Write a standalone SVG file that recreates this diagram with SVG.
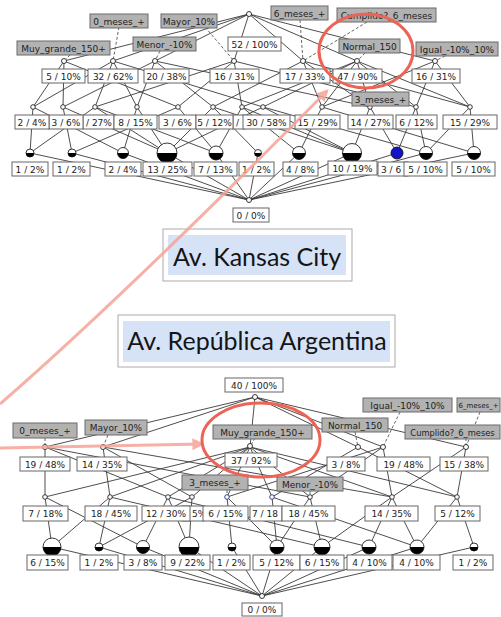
<svg xmlns="http://www.w3.org/2000/svg" width="501" height="617" viewBox="0 0 501 617">
<style>
.e{fill:none;stroke:#3a3a3a;stroke-width:0.9}
.d{fill:none;stroke:#555;stroke-width:0.9;stroke-dasharray:3 2}
.lb{fill:#fff;stroke:#666;stroke-width:1}
.at{fill:#b2b2b2;stroke:#6a6a6a;stroke-width:1}
.t{font-family:"DejaVu Sans",sans-serif;font-size:9px;fill:#222;text-anchor:middle}
.ts{font-family:"DejaVu Sans",sans-serif;font-size:9px;fill:#222;text-anchor:start}
.n{fill:#fff;stroke:#222;stroke-width:0.9}
.h{fill:#000}
.ttl{font-family:Lato,"Open Sans",sans-serif;font-size:25px;fill:#151515;text-anchor:middle}
.red{fill:none;stroke:#ec6455;stroke-width:3}
.pink{fill:none;stroke:#f5a397;stroke-width:3;opacity:0.85}
</style>
<defs>
<marker id="ah" viewBox="0 0 10 10" refX="8" refY="5" markerWidth="4" markerHeight="4" orient="auto"><path d="M0,0 L10,5 L0,10 Z" fill="#f5a397"/></marker>
</defs>
<rect width="501" height="617" fill="#fff"/>

<g id="connectors">
<!-- top lattice -->
<path class="e" d="M249 14L64 61M249 14L113 61M249 14L155 61M249 14L234 61M249 14L303 61M249 14L357 61M249 14L435 61"/>
<path class="e" d="M64 61L33 107M64 61L63 107M64 61L178 107
M113 61L33 107M113 61L95 107M113 61L137 107M113 61L263 107
M155 61L63 107M155 61L137 107M155 61L213 107M155 61L370 107
M234 61L95 107M234 61L178 107M234 61L242 107M234 61L416 107
M303 61L213 107M303 61L322 107M303 61L370 107M303 61L470 107
M357 61L242 107M357 61L263 107M357 61L322 107M357 61L370 107M357 61L416 107M357 61L470 107
M435 61L322 107M435 61L416 107M435 61L470 107"/>
<path class="e" d="M33 107L30 153M33 107L123 153
M63 107L72 153M63 107L167 153
M95 107L30 153M95 107L167 153M95 107L216 153
M137 107L123 153M137 107L167 153
M178 107L72 153M178 107L216 153
M213 107L167 153M213 107L258 153M213 107L352 153
M242 107L216 153M242 107L299 153M242 107L352 153
M263 107L167 153M263 107L352 153M263 107L426 153
M322 107L299 153M322 107L474 153
M370 107L352 153M370 107L397 153
M416 107L397 153M416 107L426 153
M470 107L426 153M470 107L474 153"/>
<path class="e" d="M30 153L249 200M72 153L249 200M123 153L249 200M167 153L249 200M216 153L249 200M258 153L249 200M299 153L249 200M352 153L249 200M397 153L249 200M426 153L249 200M474 153L249 200"/>
<path class="d" d="M70 55L64 61M119 27L113 61M160 51L155 61M205 27L234 61M300 20L303 61M367 22L303 61M365 53L357 61M445 56L435 61"/>
<!-- bottom lattice -->
<path class="e" d="M255 397L45 447M255 397L103 447M255 397L250 447M255 397L358 447M255 397L383 447M255 397L466 447"/>
<path class="e" d="M45 447L45 497M45 447L168 497M45 447L310 497
M103 447L110 497M103 447L192 497M103 447L392 497
M250 447L45 497M250 447L110 497M250 447L168 497M250 447L192 497M250 447L227 497M250 447L272 497M250 447L310 497M250 447L392 497M250 447L457 497
M358 447L272 497M358 447L457 497
M383 447L227 497M383 447L310 497M383 447L392 497
M466 447L392 497M466 447L457 497"/>
<path class="e" d="M45 497L52 547M45 497L143 547
M110 497L52 547M110 497L99 547M110 497L322 547
M168 497L143 547M168 497L189 547M168 497L369 547
M192 497L99 547M192 497L189 547
M227 497L232 547M227 497L277 547
M272 497L277 547M272 497L417 547
M310 497L277 547M310 497L322 547
M392 497L322 547M392 497L369 547M392 497L417 547
M457 497L417 547M457 497L474 547"/>
<path class="e" d="M52 547L262 596M99 547L262 596M143 547L262 596M189 547L262 596M232 547L262 596M277 547L262 596M322 547L262 596M369 547L262 596M417 547L262 596M474 547L262 596"/>
<path class="d" d="M45 438L45 447M108 435L103 447M255 438L250 447M355 432L358 447M400 412L383 447M480 412L466 447M466 438L466 447M227 490L227 497M310 491L310 497"/>
</g>

<!-- ===== top lattice nodes ===== -->
<g id="k-top"><circle class="n" cx="249" cy="14" r="2.5"/><rect class="lb" x="228" y="37" width="53" height="14"/><text class="t" x="254.5" y="47.5">52 / 100%</text></g>
<g id="k-l1">
<circle class="n" cx="64" cy="61" r="2.5"/><circle class="n" cx="113" cy="61" r="2.5"/><circle class="n" cx="155" cy="61" r="2.5"/><circle class="n" cx="234" cy="61" r="2.5"/><circle class="n" cx="303" cy="61" r="2.5"/><circle class="n" cx="357" cy="61" r="2.5"/><circle class="n" cx="435" cy="61" r="2.5"/>
</g>
<g id="k-l1-labels">
<rect class="lb" x="42" y="69" width="43" height="14"/><text class="t" x="63.5" y="79.5">5 / 10%</text>
<rect class="lb" x="88" y="69" width="50" height="14"/><text class="t" x="113" y="79.5">32 / 62%</text>
<rect class="lb" x="144" y="69" width="45" height="14"/><text class="t" x="166.5" y="79.5">20 / 38%</text>
<rect class="lb" x="210" y="69" width="49" height="14"/><text class="t" x="234.5" y="79.5">16 / 31%</text>
<rect class="lb" x="280" y="69" width="50" height="14"/><text class="t" x="305" y="79.5">17 / 33%</text>
<rect class="lb" x="333" y="69" width="49" height="14"/><text class="t" x="357.5" y="79.5">47 / 90%</text>
<rect class="lb" x="412" y="69" width="48" height="14"/><text class="t" x="436" y="79.5">16 / 31%</text>
</g>
<g id="k-l2">
<circle class="n" cx="33" cy="107" r="2.3"/><circle class="n" cx="63" cy="107" r="2.3"/><circle class="n" cx="95" cy="107" r="2.3"/><circle class="n" cx="137" cy="107" r="2.3"/><circle class="n" cx="178" cy="107" r="2.3"/><circle class="n" cx="213" cy="107" r="2.3"/><circle class="n" cx="242" cy="107" r="2.3"/><circle class="n" cx="263" cy="107" r="2.3"/><circle class="n" cx="322" cy="107" r="2.3"/><circle class="n" cx="370" cy="107" r="2.3"/><circle class="n" cx="416" cy="107" r="2.3"/><circle class="n" cx="470" cy="107" r="2.3"/>
</g>
<g id="k-l2-labels">
<rect class="lb" x="83" y="115" width="31" height="14"/><text class="ts" x="86" y="125.5">/ 27%</text>
<rect class="lb" x="49" y="115" width="34" height="14"/><text class="t" x="66" y="125.5">3 / 6%</text>
<rect class="lb" x="15" y="115" width="34" height="14"/><text class="t" x="32" y="125.5">2 / 4%</text>
<rect class="lb" x="114" y="115" width="43" height="14"/><text class="t" x="135.5" y="125.5">8 / 15%</text>
<rect class="lb" x="159" y="115" width="37" height="14"/><text class="t" x="177.5" y="125.5">3 / 6%</text>
<rect class="lb" x="233" y="115" width="12" height="14"/><text class="ts" x="236" y="125.5">/</text>
<rect class="lb" x="196" y="115" width="37" height="14"/><text class="t" x="214.5" y="125.5">5 / 12%</text>
<rect class="lb" x="243" y="115" width="47" height="14"/><text class="t" x="266.5" y="125.5">30 / 58%</text>
<rect class="lb" x="295" y="115" width="45" height="14"/><text class="t" x="317.5" y="125.5">15 / 29%</text>
<rect class="lb" x="348" y="115" width="45" height="14"/><text class="t" x="370.5" y="125.5">14 / 27%</text>
<rect class="lb" x="396" y="115" width="41" height="14"/><text class="t" x="416.5" y="125.5">6 / 12%</text>
<rect class="lb" x="443" y="115" width="54" height="14"/><text class="t" x="470" y="125.5">15 / 29%</text>
</g>
<g id="k-l3">
<circle class="n" cx="30" cy="153" r="4"/><path class="h" d="M26 153A4 4 0 0 0 34 153Z"/>
<circle class="n" cx="72" cy="153" r="4"/><path class="h" d="M68 153A4 4 0 0 0 76 153Z"/>
<circle class="n" cx="123" cy="153" r="5.5"/><path class="h" d="M117.5 153A5.5 5.5 0 0 0 128.5 153Z"/>
<circle class="n" cx="167" cy="153" r="10"/><path class="h" d="M157 153A10 10 0 0 0 177 153Z"/>
<circle class="n" cx="216" cy="153" r="7"/><path class="h" d="M209 153A7 7 0 0 0 223 153Z"/>
<circle class="n" cx="258" cy="153" r="3.5"/><path class="h" d="M254.5 153A3.5 3.5 0 0 0 261.5 153Z"/>
<circle class="n" cx="299" cy="153" r="6.5"/><path class="h" d="M292.5 153A6.5 6.5 0 0 0 305.5 153Z"/>
<circle class="n" cx="352" cy="153" r="9.5"/><path class="h" d="M342.5 153A9.5 9.5 0 0 0 361.5 153Z"/>
<circle cx="397" cy="153" r="6" fill="#1313c8" stroke="#111" stroke-width="0.9"/>
<circle class="n" cx="426" cy="153" r="6.5"/><path class="h" d="M419.5 153A6.5 6.5 0 0 0 432.5 153Z"/>
<circle class="n" cx="474" cy="153" r="6.5"/><path class="h" d="M467.5 153A6.5 6.5 0 0 0 480.5 153Z"/>
</g>
<g id="k-l3-labels">
<rect class="lb" x="12" y="162" width="36" height="14"/><text class="t" x="30" y="172.5">1 / 2%</text>
<rect class="lb" x="53" y="162" width="37" height="14"/><text class="t" x="71.5" y="172.5">1 / 2%</text>
<rect class="lb" x="105" y="162" width="36" height="14"/><text class="t" x="123" y="172.5">2 / 4%</text>
<rect class="lb" x="143" y="162" width="49" height="14"/><text class="t" x="167.5" y="172.5">13 / 25%</text>
<rect class="lb" x="194" y="162" width="43" height="14"/><text class="t" x="215.5" y="172.5">7 / 13%</text>
<rect class="lb" x="239" y="162" width="35" height="14"/><text class="t" x="256.5" y="172.5">1 / 2%</text>
<rect class="lb" x="283" y="162" width="35" height="14"/><text class="t" x="300.5" y="172.5">4 / 8%</text>
<rect class="lb" x="328" y="161" width="49" height="14"/><text class="t" x="352.5" y="171.5">10 / 19%</text>
<rect class="lb" x="378" y="162" width="30" height="14"/><text class="ts" x="381" y="172.5">3 / 6</text>
<rect class="lb" x="404" y="162" width="43" height="14"/><text class="t" x="425.5" y="172.5">5 / 10%</text>
<rect class="lb" x="452" y="162" width="43" height="14"/><text class="t" x="473.5" y="172.5">5 / 10%</text>
</g>
<g id="k-bottom"><circle class="n" cx="249" cy="200" r="2.5"/><rect class="lb" x="233" y="208" width="36" height="14"/><text class="t" x="251" y="218.5">0 / 0%</text></g>
<g id="k-attrs">
<g id="k-a-0meses"><rect class="at" x="90" y="14" width="58" height="14"/><text class="t" x="119" y="24.5">0_meses_+</text></g>
<g id="k-a-mayor"><rect class="at" x="161" y="14" width="56" height="14"/><text class="t" x="189" y="24.5">Mayor_10%</text></g>
<g id="k-a-6meses"><rect class="at" x="271" y="6" width="57" height="14"/><text class="t" x="299.5" y="16.5">6_meses_+</text></g>
<g id="k-a-cumplido"><rect class="at" x="337" y="8" width="99" height="14"/><text class="t" x="386.5" y="18.5">Cumplido?_6_meses</text></g>
<g id="k-a-muygrande"><rect class="at" x="17" y="41" width="93" height="14"/><text class="t" x="63.5" y="51.5">Muy_grande_150+</text></g>
<g id="k-a-menor"><rect class="at" x="133" y="37" width="63" height="14"/><text class="t" x="164.5" y="47.5">Menor_-10%</text></g>
<g id="k-a-normal"><rect class="at" x="339" y="39" width="61" height="14"/><text class="t" x="369.5" y="49.5">Normal_150</text></g>
<g id="k-a-igual"><rect class="at" x="416" y="42" width="82" height="14"/><text class="t" x="457" y="52.5">Igual_-10%_10%</text></g>
<g id="k-a-3meses"><rect class="at" x="352" y="92" width="57" height="14"/><text class="t" x="380.5" y="102.5">3_meses_+</text></g>
</g>

<!-- ===== titles ===== -->
<g id="title-kansas"><rect x="163" y="229" width="189" height="52" fill="#fff" stroke="#aaa" stroke-width="1"/><rect x="168" y="235" width="178" height="40" fill="#d6e3f7"/><text class="ttl" x="257" y="266">Av. Kansas City</text></g>
<g id="title-argentina"><rect x="118" y="315" width="277" height="52" fill="#fff" stroke="#aaa" stroke-width="1"/><rect x="123" y="321" width="267" height="41" fill="#d6e3f7"/><text class="ttl" x="257" y="350">Av. República Argentina</text></g>

<!-- ===== bottom lattice nodes ===== -->
<g id="a-top"><circle class="n" cx="255" cy="397" r="2.5"/><rect class="lb" x="225" y="378" width="58" height="14"/><text class="t" x="254" y="388.5">40 / 100%</text></g>
<g id="a-l1">
<circle class="n" cx="45" cy="447" r="2.5"/><circle class="n" cx="103" cy="447" r="2.5"/><circle class="n" cx="250" cy="446" r="2.5"/><circle class="n" cx="358" cy="447" r="2.5"/><circle class="n" cx="383" cy="447" r="2.5"/><circle class="n" cx="466" cy="447" r="2.5"/>
</g>
<g id="a-l1-labels">
<rect class="lb" x="20" y="457" width="50" height="14"/><text class="t" x="45" y="467.5">19 / 48%</text>
<rect class="lb" x="77" y="457" width="50" height="14"/><text class="t" x="102" y="467.5">14 / 35%</text>
<rect class="lb" x="225" y="453" width="52" height="14"/><text class="t" x="251" y="463.5">37 / 92%</text>
<rect class="lb" x="327" y="457" width="38" height="14"/><text class="t" x="346" y="467.5">3 / 8%</text>
<rect class="lb" x="377" y="457" width="53" height="14"/><text class="t" x="403.5" y="467.5">19 / 48%</text>
<rect class="lb" x="440" y="457" width="48" height="14"/><text class="t" x="464" y="467.5">15 / 38%</text>
</g>
<g id="a-l2">
<circle class="n" cx="45" cy="497" r="2.3"/><circle class="n" cx="110" cy="497" r="2.3"/><circle class="n" cx="168" cy="497" r="2.3"/><circle class="n" cx="192" cy="497" r="2.3"/><circle cx="227" cy="497" r="2.3" fill="#fff" stroke="#2a2a90" stroke-width="0.9"/><circle cx="272" cy="497" r="2.3" fill="#fff" stroke="#2a2a90" stroke-width="0.9"/><circle class="n" cx="310" cy="497" r="2.3"/><circle class="n" cx="392" cy="497" r="2.3"/><circle class="n" cx="457" cy="497" r="2.3"/>
</g>
<g id="a-l2-labels">
<rect class="lb" x="23" y="506" width="45" height="15"/><text class="t" x="45.5" y="517">7 / 18%</text>
<rect class="lb" x="85" y="506" width="52" height="15"/><text class="t" x="111" y="517">18 / 45%</text>
<rect class="lb" x="182" y="506" width="22" height="15"/><text class="ts" x="192" y="517">5%</text>
<rect class="lb" x="142" y="506" width="48" height="15"/><text class="t" x="166" y="517">12 / 30%</text>
<rect class="lb" x="203" y="506" width="45" height="15"/><text class="t" x="225.5" y="517">6 / 15%</text>
<rect class="lb" x="250" y="506" width="32" height="15"/><text class="ts" x="252" y="517">7 / 18</text>
<rect class="lb" x="282" y="506" width="53" height="15"/><text class="t" x="308.5" y="517">18 / 45%</text>
<rect class="lb" x="365" y="506" width="53" height="15"/><text class="t" x="391.5" y="517">14 / 35%</text>
<rect class="lb" x="435" y="506" width="45" height="15"/><text class="t" x="457.5" y="517">5 / 12%</text>
</g>
<g id="a-l3">
<circle class="n" cx="52" cy="547" r="9"/><path class="h" d="M43 547A9 9 0 0 0 61 547Z"/>
<circle class="n" cx="99" cy="547" r="4"/><path class="h" d="M95 547A4 4 0 0 0 103 547Z"/>
<circle class="n" cx="143" cy="547" r="6.5"/><path class="h" d="M136.5 547A6.5 6.5 0 0 0 149.5 547Z"/>
<circle class="n" cx="189" cy="547" r="10"/><path class="h" d="M179 547A10 10 0 0 0 199 547Z"/>
<circle class="n" cx="232" cy="547" r="4"/><path class="h" d="M228 547A4 4 0 0 0 236 547Z"/>
<circle class="n" cx="277" cy="547" r="7"/><path class="h" d="M270 547A7 7 0 0 0 284 547Z"/>
<circle class="n" cx="322" cy="547" r="8"/><path class="h" d="M314 547A8 8 0 0 0 330 547Z"/>
<circle class="n" cx="369" cy="547" r="7"/><path class="h" d="M362 547A7 7 0 0 0 376 547Z"/>
<circle class="n" cx="417" cy="547" r="7"/><path class="h" d="M410 547A7 7 0 0 0 424 547Z"/>
<circle class="n" cx="474" cy="547" r="4"/><path class="h" d="M470 547A4 4 0 0 0 478 547Z"/>
</g>
<g id="a-l3-labels">
<rect class="lb" x="27" y="555" width="41" height="15"/><text class="t" x="47.5" y="566">6 / 15%</text>
<rect class="lb" x="80" y="555" width="38" height="15"/><text class="t" x="99" y="566">1 / 2%</text>
<rect class="lb" x="124" y="555" width="38" height="15"/><text class="t" x="143" y="566">3 / 8%</text>
<rect class="lb" x="165" y="555" width="45" height="15"/><text class="t" x="187.5" y="566">9 / 22%</text>
<rect class="lb" x="213" y="555" width="37" height="15"/><text class="t" x="231.5" y="566">1 / 2%</text>
<rect class="lb" x="253" y="555" width="47" height="15"/><text class="t" x="276.5" y="566">5 / 12%</text>
<rect class="lb" x="300" y="555" width="44" height="15"/><text class="t" x="322" y="566">6 / 15%</text>
<rect class="lb" x="347" y="555" width="45" height="15"/><text class="t" x="369.5" y="566">4 / 10%</text>
<rect class="lb" x="393" y="555" width="47" height="15"/><text class="t" x="416.5" y="566">4 / 10%</text>
<rect class="lb" x="453" y="555" width="40" height="15"/><text class="t" x="473" y="566">1 / 2%</text>
</g>
<g id="a-bottom"><circle class="n" cx="262" cy="596" r="2.5"/><rect class="lb" x="242" y="603" width="40" height="13"/><text class="t" x="262" y="613">0 / 0%</text></g>
<g id="a-attrs">
<g id="a-a-0meses"><rect class="at" x="13" y="423" width="64" height="15"/><text class="t" x="45" y="434">0_meses_+</text></g>
<g id="a-a-mayor"><rect class="at" x="85" y="420" width="62" height="15"/><text class="t" x="116" y="431">Mayor_10%</text></g>
<g id="a-a-muygrande"><rect class="at" x="213" y="425" width="99" height="14"/><text class="t" x="262.5" y="435.5">Muy_grande_150+</text></g>
<g id="a-a-normal"><rect class="at" x="322" y="418" width="66" height="14"/><text class="t" x="355" y="428.5">Normal_150</text></g>
<g id="a-a-igual"><rect class="at" x="363" y="398" width="89" height="14"/><text class="t" x="407.5" y="408.5">Igual_-10%_10%</text></g>
<g id="a-a-6meses"><rect class="at" x="457" y="398" width="43" height="14"/><text class="t" x="478.5" y="408" style="font-size:7px">6_meses_+</text></g>
<g id="a-a-cumplido"><rect class="at" x="405" y="425" width="95" height="14"/><text class="t" x="452.5" y="435.5" style="font-size:8.3px">Cumplido?_6_meses</text></g>
<g id="a-a-3meses"><rect class="at" x="182" y="475" width="66" height="15"/><text class="t" x="215" y="486">3_meses_+</text></g>
<g id="a-a-menor"><rect class="at" x="277" y="477" width="66" height="14"/><text class="t" x="310" y="487.5">Menor_-10%</text></g>
</g>

<!-- ===== red annotations ===== -->
<g id="annotations">
<path class="pink" d="M0 404Q120 300 327 91" marker-end="url(#ah)"/>
<path class="pink" d="M0 448L202 444" marker-end="url(#ah)"/>
<ellipse class="red" cx="366" cy="51" rx="47" ry="37"/>
<ellipse class="red" cx="261" cy="440" rx="59" ry="37"/>
</g>
</svg>
